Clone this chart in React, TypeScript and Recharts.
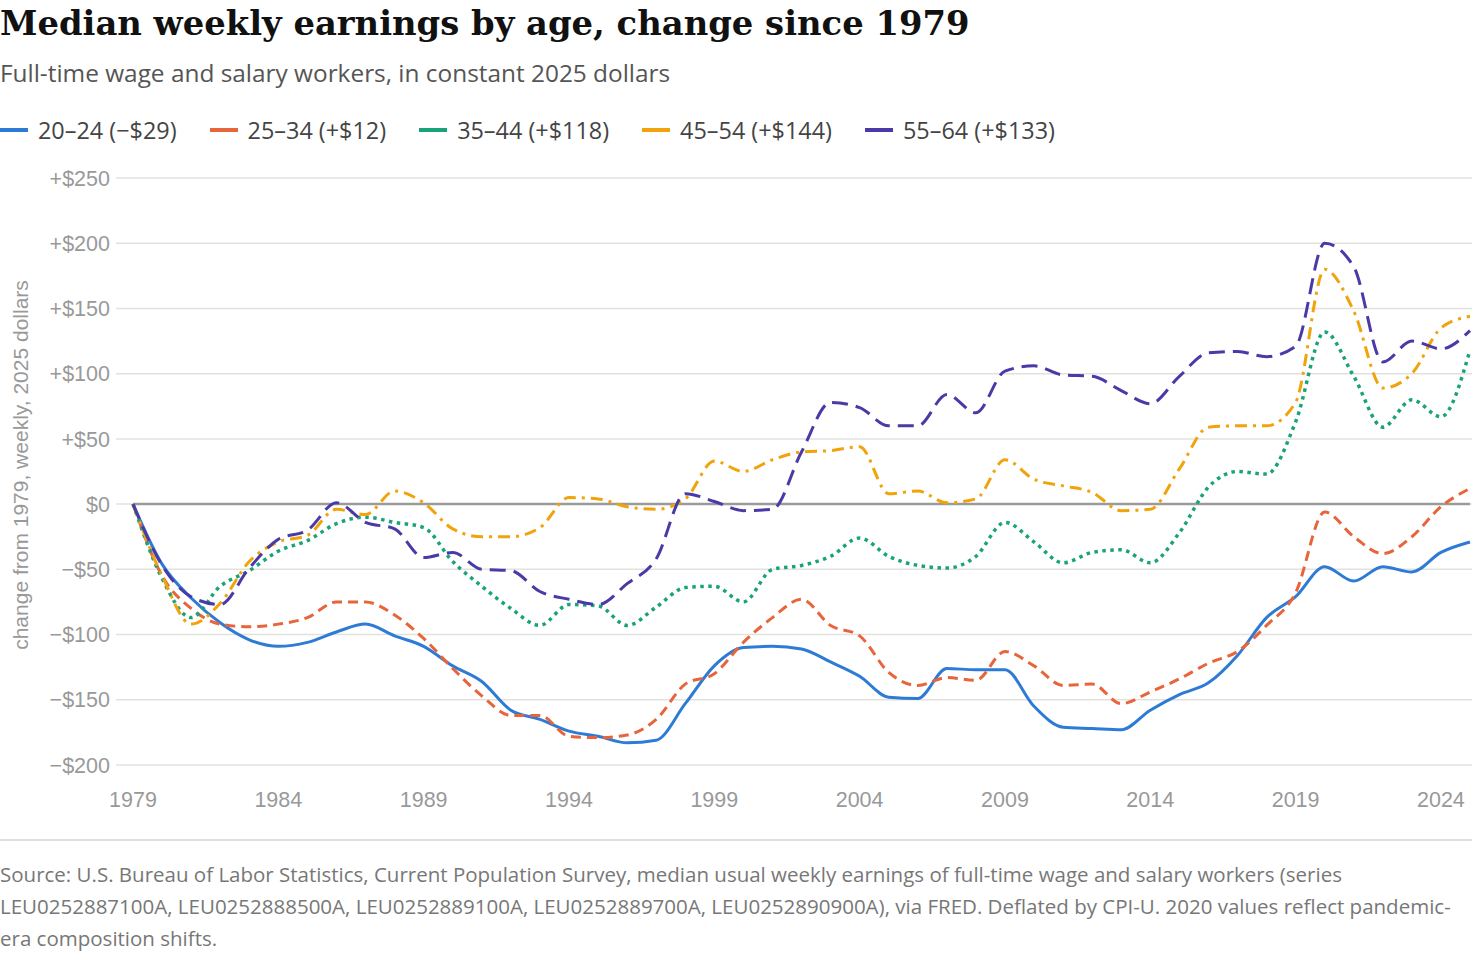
import React from 'react';
import { LineChart, Line, XAxis, YAxis, CartesianGrid, ReferenceLine } from 'recharts';

const years = [
  1979, 1980, 1981, 1982, 1983, 1984, 1985, 1986, 1987, 1988, 1989, 1990, 1991, 1992, 1993, 1994,
  1995, 1996, 1997, 1998, 1999, 2000, 2001, 2002, 2003, 2004, 2005, 2006, 2007, 2008, 2009, 2010,
  2011, 2012, 2013, 2014, 2015, 2016, 2017, 2018, 2019, 2020, 2021, 2022, 2023, 2024, 2025,
];

const age20to24 = [
  0, -46, -72, -91, -104, -109, -106, -98, -92, -101, -109, -124, -136, -158, -165, -174,
  -178, -183, -181, -153, -124, -110, -109, -111, -121, -132, -148, -149, -126, -127, -127, -155,
  -171, -172, -173, -158, -146, -137, -116, -87, -71, -48, -59, -48, -52, -37, -29,
];
const age25to34 = [
  0, -55, -80, -92, -94, -92, -87, -75, -75, -85, -103, -126, -147, -162, -162, -178,
  -179, -177, -165, -138, -130, -106, -87, -73, -93, -101, -129, -139, -133, -135, -113, -124,
  -139, -138, -153, -144, -134, -122, -113, -93, -68, -6, -25, -38, -25, -2, 12,
];
const age35to44 = [
  0, -57, -87, -63, -51, -36, -28, -15, -10, -14, -18, -44, -63, -80, -93, -77,
  -78, -93, -79, -64, -63, -75, -50, -47, -40, -26, -40, -47, -49, -40, -14, -29,
  -45, -37, -35, -45, -22, 13, 25, 23, 63, 132, 98, 59, 80, 67, 118,
];
const age45to54 = [
  0, -55, -92, -76, -44, -29, -24, -4, -8, 10, 1, -19, -25, -25, -18, 5,
  4, -2, -4, 4, 33, 25, 34, 40, 41, 44, 8, 10, 1, 4, 34, 19,
  14, 9, -5, -4, 27, 59, 60, 60, 78, 180, 148, 89, 100, 135, 144,
];
const age55to64 = [
  0, -47, -71, -77, -49, -27, -20, 1, -14, -19, -41, -37, -50, -51, -67, -73,
  -77, -61, -42, 8, 2, -5, -4, 40, 78, 74, 60, 60, 84, 70, 102, 106,
  99, 98, 87, 77, 98, 116, 117, 113, 121, 200, 182, 109, 125, 119, 133,
];

const seriesKeys = ['a20', 'a25', 'a35', 'a45', 'a55'];
const seriesLabels = ['20–24 (−$29)', '25–34 (+$12)', '35–44 (+$118)', '45–54 (+$144)', '55–64 (+$133)'];
const seriesColors = ['#2e7bd6', '#e8643a', '#1aa37a', '#f0a30a', '#4a3aa8'];
const seriesDashes = ['', '10 6', '3.5 4.5', '12 6 3 6', '16 8'];
const seriesValues = [age20to24, age25to34, age35to44, age45to54, age55to64];

const yTicks = [-200, -150, -100, -50, 0, 50, 100, 150, 200, 250];
const xTicks = [1979, 1984, 1989, 1994, 1999, 2004, 2009, 2014, 2019, 2024];

const data = years.map((year, i) => {
  const row: Record<string, number> = { year };
  seriesKeys.forEach((k, s) => {
    row[k] = seriesValues[s][i];
  });
  return row;
});

const fmtY = (v: number) => (v > 0 ? `+$${v}` : v < 0 ? `−$${-v}` : '$0');

const sourceLines = [
  'Source: U.S. Bureau of Labor Statistics, Current Population Survey, median usual weekly earnings of full-time wage and salary workers (series',
  'LEU0252887100A, LEU0252888500A, LEU0252889100A, LEU0252889700A, LEU0252890900A), via FRED. Deflated by CPI-U. 2020 values reflect pandemic-',
  'era composition shifts.',
];

const sans = '"Open Sans", "Noto Sans", sans-serif';
const axisFont = '"Liberation Sans", Arial, sans-serif';

export default function App() {
  return (
    <div style={{ position: 'relative', width: 1472, height: 954, background: '#fff', overflow: 'hidden' }}>
      <style>{'body{margin:0;background:#fff}'}</style>
      <div
        style={{
          position: 'absolute', top: 3, left: 0, fontFamily: '"DejaVu Serif", serif', fontWeight: 700,
          fontSize: 33.8, lineHeight: '40px', color: '#111', whiteSpace: 'nowrap',
        }}
      >
        Median weekly earnings by age, change since 1979
      </div>
      <div
        style={{
          position: 'absolute', top: 56, left: 0, fontFamily: sans, fontSize: 24.4, lineHeight: '33px',
          color: '#555', whiteSpace: 'nowrap',
        }}
      >
        Full-time wage and salary workers, in constant 2025 dollars
      </div>
      <div
        style={{
          position: 'absolute', top: 115, left: 0, height: 30, display: 'flex', alignItems: 'center',
          gap: 33, fontFamily: sans, fontSize: 23.4, color: '#444', whiteSpace: 'nowrap',
        }}
      >
        {seriesKeys.map((k, s) => (
          <div key={k} style={{ display: 'flex', alignItems: 'center' }}>
            <div style={{ width: 28, height: 4, background: seriesColors[s], marginRight: 10 }} />
            <span>{seriesLabels[s]}</span>
          </div>
        ))}
      </div>
      <div
        style={{
          position: 'absolute', left: 21, top: 465, transform: 'translate(-50%, -50%) rotate(-90deg)',
          fontFamily: axisFont, fontSize: 21, color: '#999', whiteSpace: 'nowrap',
        }}
      >
        change from 1979, weekly, 2025 dollars
      </div>
      <div style={{ position: 'absolute', top: 150, left: 0 }}>
        <LineChart width={1472} height={690} data={data} margin={{ top: 28, right: 0, bottom: 0, left: 0 }}>
          <CartesianGrid vertical={false} stroke="#e2e2dc" strokeWidth={1.5} />
          <XAxis
            dataKey="year"
            type="number"
            domain={[1979, 2025]}
            ticks={xTicks}
            axisLine={false}
            tickLine={false}
            tickMargin={21}
            height={75}
            padding={{ left: 17, right: 2 }}
            tick={{ fill: '#999', fontSize: 21.5, fontFamily: axisFont }}
            interval={0}
          />
          <YAxis
            type="number"
            domain={[-200, 250]}
            ticks={yTicks}
            tickFormatter={fmtY}
            axisLine={false}
            tickLine={false}
            tickMargin={0}
            width={116}
            tick={{ fill: '#999', fontSize: 21.5, fontFamily: axisFont }}
            interval={0}
          />
          <ReferenceLine
            segment={[{ x: 1979, y: 0 }, { x: 2025, y: 0 }]}
            stroke="#9a9a9a"
            strokeWidth={2.5}
          />
          {seriesKeys.map((k, s) => (
            <Line
              key={k}
              type="monotone"
              dataKey={k}
              stroke={seriesColors[s]}
              strokeWidth={s === 2 ? 3.5 : 3}
              strokeDasharray={seriesDashes[s] || undefined}
              dot={false}
              activeDot={false}
              isAnimationActive={false}
            />
          ))}
        </LineChart>
      </div>
      <div style={{ position: 'absolute', top: 839, left: 0, width: 1472, height: 2, background: '#dedede' }} />
      <div
        style={{
          position: 'absolute', top: 858, left: 0, fontFamily: sans, fontSize: 20.5, lineHeight: '32px',
          color: '#777',
        }}
      >
        {sourceLines.map((t, i) => (
          <div key={i} style={{ whiteSpace: 'nowrap' }}>{t}</div>
        ))}
      </div>
    </div>
  );
}
